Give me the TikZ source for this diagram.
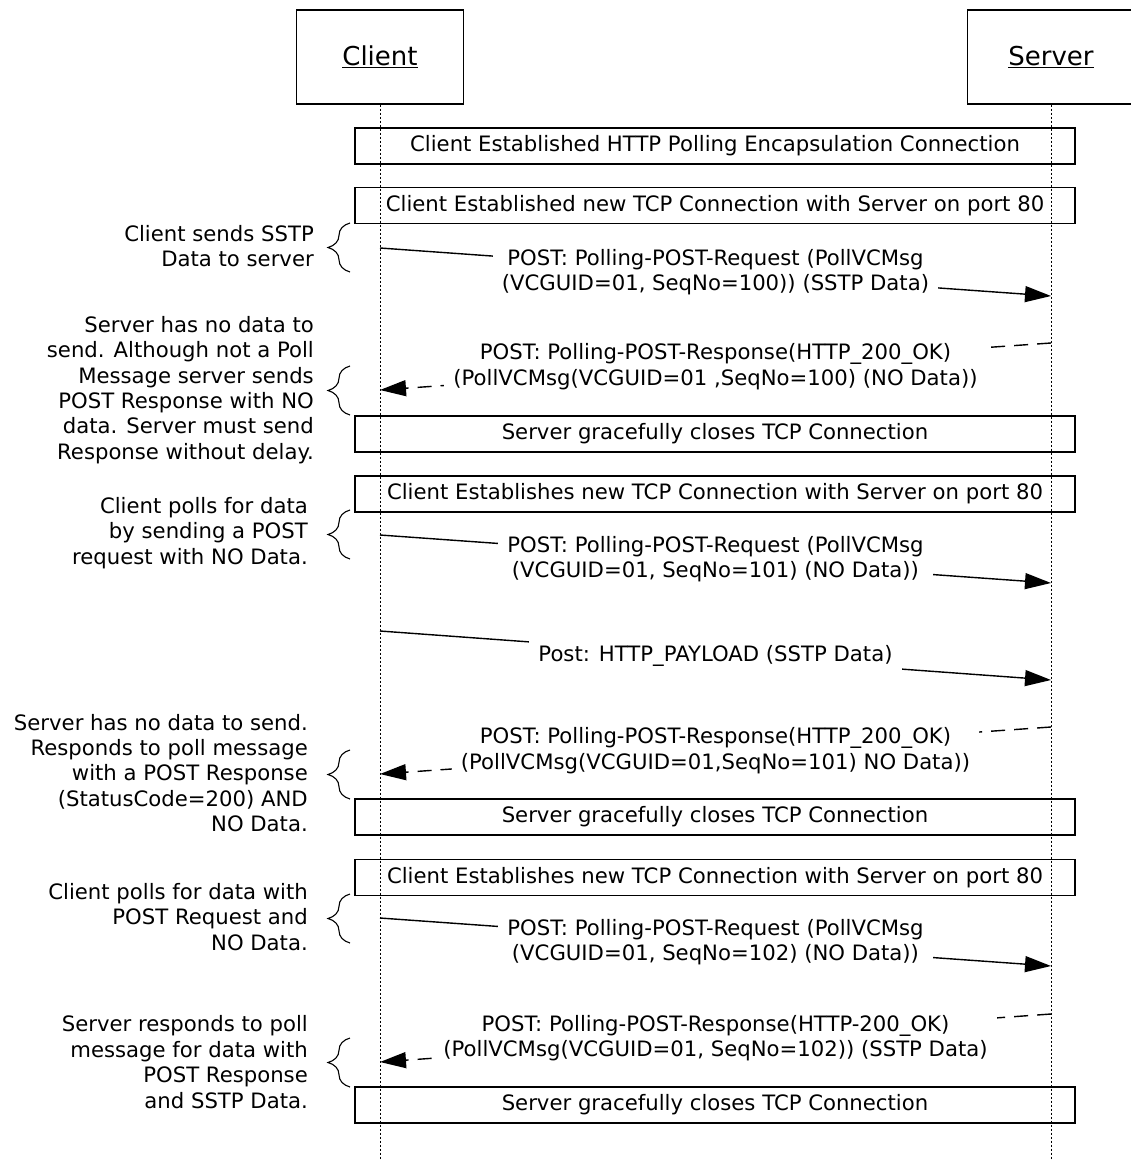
\documentclass[tikz,border=0pt]{standalone}
\usepackage{fontspec}
\setmainfont{DejaVu Sans}
\usetikzlibrary{arrows.meta, positioning, decorations.pathreplacing}

\begin{document}
\begin{tikzpicture}[x=1pt, y=-1pt,
    every node/.style={font=\fontsize{21.2}{25.4}\selectfont},
    actor/.style={rectangle, draw, line width=1.3pt, minimum width=167pt,
                  minimum height=94pt, inner sep=0pt, font=\fontsize{26}{30}\selectfont},
    phase/.style={rectangle, draw, line width=1.3pt, minimum width=720pt,
                  minimum height=36pt, inner sep=0pt},
    life/.style={line width=1pt, dash pattern=on 2pt off 2pt},
    msg/.style={fill=white, align=center, inner xsep=9pt, inner ysep=5pt},
    req/.style={-{Triangle[length=26pt, width=16pt]}, line width=1.4pt},
    resp/.style={req, dash pattern=on 14pt off 9pt},
    note/.style={align=right, anchor=east, inner sep=0pt},
    brc/.style={decorate, decoration={brace, amplitude=22pt, mirror}, line width=1.1pt}
]
    \useasboundingbox (0,0) rectangle (1130,1159);

    % actors and lifelines
    \node[actor] (client) at (380,57)  {\underline{Client}};
    \node[actor] (server) at (1051,57) {\underline{Server}};
    \coordinate (cend) at (380,1159);
    \coordinate (send) at (1051,1159);
    \draw[life] (client.south) -- (cend);
    \draw[life] (server.south) -- (send);

    % phase boxes
    \node[phase] (conn)   at (715,146)   {Client Established HTTP Polling Encapsulation Connection};
    \node[phase] (tcpA)   at (715,205.5) {Client Established new TCP Connection with Server on port 80};
    \node[phase] (closeA) at (715,434)   {Server gracefully closes TCP Connection};
    \node[phase] (tcpB)   at (715,494)   {Client Establishes new TCP Connection with Server on port 80};
    \node[phase] (closeB) at (715,817)   {Server gracefully closes TCP Connection};
    \node[phase] (tcpC)   at (715,877.5) {Client Establishes new TCP Connection with Server on port 80};
    \node[phase] (closeC) at (715,1105)  {Server gracefully closes TCP Connection};

    % message end points
    \coordinate (c1) at (380,248);  \coordinate (s1) at (1051,296);
    \coordinate (s2) at (1051,343); \coordinate (c2) at (380,390);
    \coordinate (c3) at (380,535);  \coordinate (s3) at (1051,583);
    \coordinate (c4) at (380,631);  \coordinate (s4) at (1051,680);
    \coordinate (s5) at (1051,727); \coordinate (c5) at (380,774);
    \coordinate (c6) at (380,918);  \coordinate (s6) at (1051,966);
    \coordinate (s7) at (1051,1014);\coordinate (c7) at (380,1062);

    \draw[req]  (c1) -- node[msg] (m1) {POST: Polling-POST-Request (PollVCMsg\\(VCGUID=01, SeqNo=100)) (SSTP Data)} (s1);
    \draw[resp] (s2) -- node[msg] (m2) {POST: Polling-POST-Response(HTTP\_200\_OK)\\(PollVCMsg(VCGUID=01 ,SeqNo=100) (NO Data))} (c2);
    \draw[req]  (c3) -- node[msg] (m3) {POST: Polling-POST-Request (PollVCMsg\\(VCGUID=01, SeqNo=101) (NO Data))} (s3);
    \draw[req]  (c4) -- node[msg] (m4) {Post: HTTP\_PAYLOAD (SSTP Data)} (s4);
    \draw[resp] (s5) -- node[msg] (m5) {POST: Polling-POST-Response(HTTP\_200\_OK)\\(PollVCMsg(VCGUID=01,SeqNo=101) NO Data))} (c5);
    \draw[req]  (c6) -- node[msg] (m6) {POST: Polling-POST-Request (PollVCMsg\\(VCGUID=01, SeqNo=102) (NO Data))} (s6);
    \draw[resp] (s7) -- node[msg] (m7) {POST: Polling-POST-Response(HTTP-200\_OK)\\(PollVCMsg(VCGUID=01, SeqNo=102)) (SSTP Data)} (c7);

    % braces with notes
    \coordinate (b1t) at (350,223);  \coordinate (b1b) at (350,272);
    \coordinate (b2t) at (350,366);  \coordinate (b2b) at (350,415);
    \coordinate (b3t) at (350,510);  \coordinate (b3b) at (350,559);
    \coordinate (b5t) at (350,750);  \coordinate (b5b) at (350,799);
    \coordinate (b6t) at (350,894);  \coordinate (b6b) at (350,943);
    \coordinate (b7t) at (350,1038); \coordinate (b7b) at (350,1087);
    \draw[brc] (b1t) -- (b1b);
    \draw[brc] (b2t) -- (b2b);
    \draw[brc] (b3t) -- (b3b);
    \draw[brc] (b5t) -- (b5b);
    \draw[brc] (b6t) -- (b6b);
    \draw[brc] (b7t) -- (b7b);

    \node[note] (n1) at (314,246)  {Client sends SSTP\\Data to server};
    \node[note] (n2) at (314,390)  {Server has no data to\\send. Although not a Poll\\Message server sends\\POST Response with NO\\data. Server must send\\Response without delay.};
    \node[note] (n3) at (308,533)  {Client polls for data\\by sending a POST\\request with NO Data.};
    \node[note] (n5) at (308,773)  {Server has no data to send.\\Responds to poll message\\with a POST Response\\(StatusCode=200) AND\\NO Data.};
    \node[note] (n6) at (308,917)  {Client polls for data with\\POST Request and\\NO Data.};
    \node[note] (n7) at (308,1062) {Server responds to poll\\message for data with\\POST Response\\and SSTP Data.};
\end{tikzpicture}
\end{document}
